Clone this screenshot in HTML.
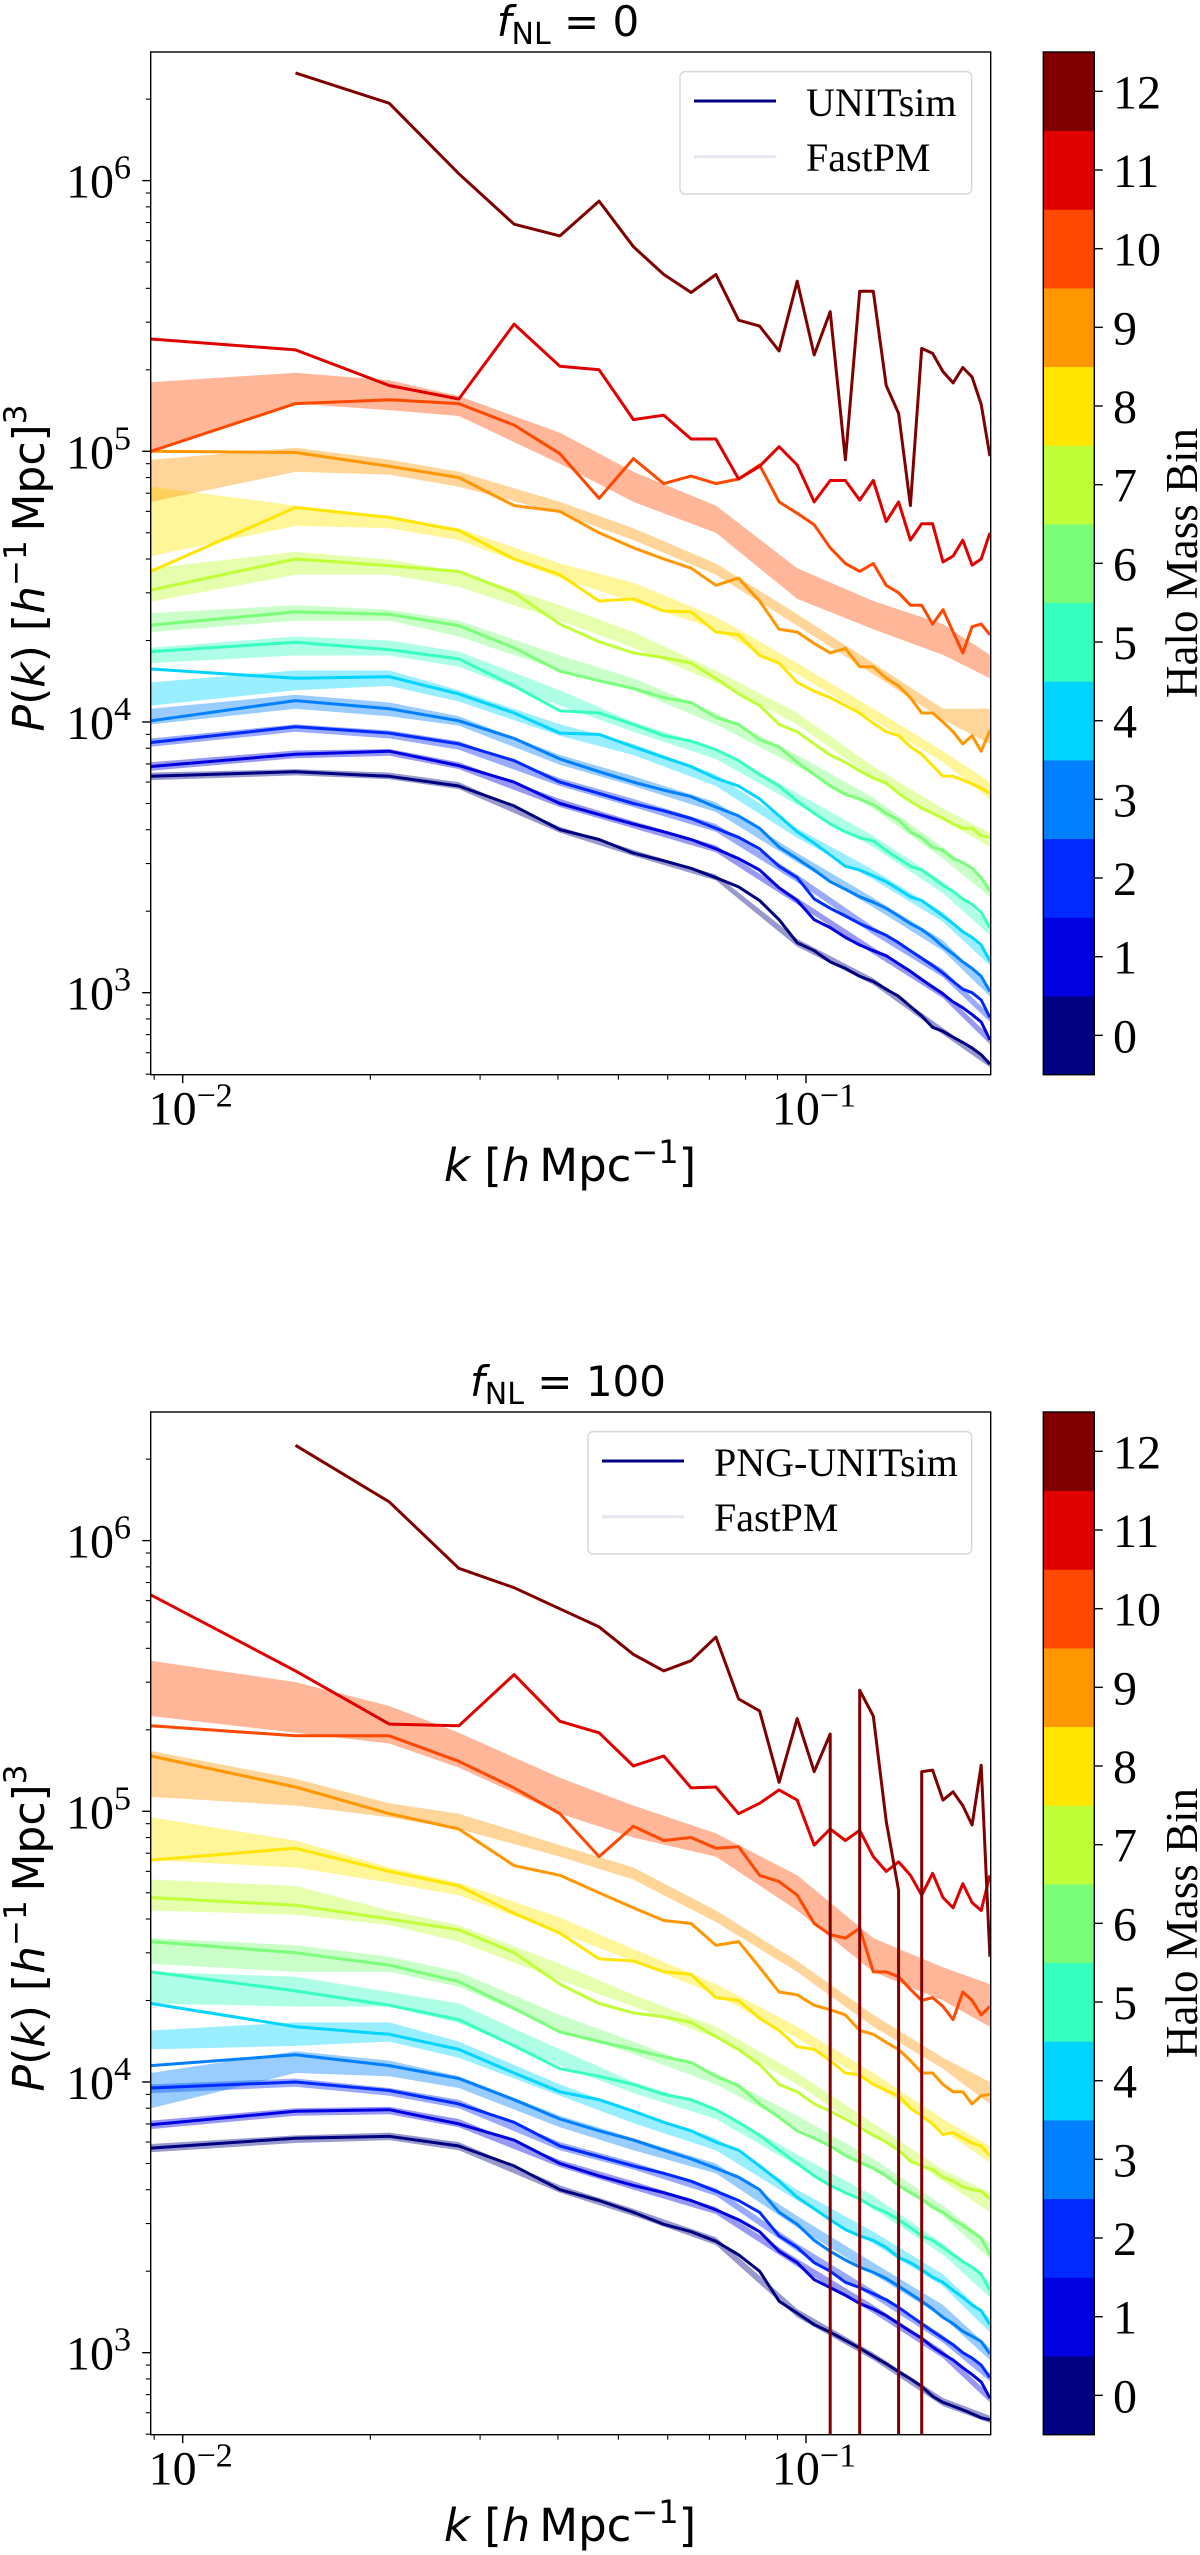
<!DOCTYPE html>
<html><head><meta charset="utf-8"><style>
html,body{margin:0;padding:0;background:#fff;overflow:hidden;}
svg{display:block;}
</style></head><body>
<svg id="fig" width="1200" height="2555" viewBox="0 0 1200 2555" xmlns="http://www.w3.org/2000/svg"></svg>
<script>
// ---- data ----
const kVals = [0.00889,0.01517,0.02145,0.02773,0.03401,0.04029,0.04657,0.05285,0.05913,0.06541,0.07169,0.07797,0.08425,0.09053,0.09681,0.10309,0.10937,0.11565,0.12193,0.12821,0.13449,0.14077,0.14705,0.15333,0.15961,0.16589,0.17217,0.17845,0.18473,0.19101,0.19729];
const bandK = [0.00889,0.01517,0.02145,0.02773,0.04029,0.05285,0.07169,0.09681,0.12821,0.16589,0.19729];
const binLabels = ["0","1","2","3","4","5","6","7","8","9","10","11","12"];
const yTickLabels = ["3","4","5","6"];
const xTickLabels = ["\u22122","\u22121"];

const top0 = [6300,6550,6300,5800,4900,4000,3680,3280,3070,2880,2660,2460,2190,1860,1530,1430,1300,1230,1150,1100,1030,970,890,820,745,720,685,655,625,590,545];
const top1 = [6850,7600,7800,6900,6000,5000,4550,4200,3930,3680,3400,3130,2840,2440,2190,1860,1740,1600,1500,1430,1370,1280,1200,1120,1050,990,925,880,830,780,670];
const top2 = [8400,9600,9100,8300,7200,6000,5450,5000,4700,4400,4050,3750,3400,2930,2660,2220,2050,1920,1800,1710,1630,1530,1430,1340,1260,1180,1100,1030,1000,940,810];
const top3 = [10100,12000,11200,10100,8700,7300,6550,6000,5600,5300,4850,4500,4050,3450,3130,2840,2570,2410,2260,2160,2050,1920,1800,1710,1600,1480,1390,1300,1230,1150,1010];
const top4 = [15700,14500,14700,12700,10800,9100,9000,8100,7400,6850,6200,5800,5200,4500,3930,3570,3230,2930,2840,2700,2570,2410,2260,2190,2050,1920,1800,1680,1600,1500,1310];
const top5 = [18200,19700,18500,17100,13600,11000,10800,9800,8900,8500,7900,7200,6400,5800,5100,4600,4200,3930,3730,3640,3350,3130,2930,2840,2660,2490,2370,2220,2120,1980,1740];
const top6 = [22800,25500,25000,22700,18800,15400,14200,13300,12300,11800,10400,9800,8600,8100,7100,6400,5800,5400,5200,4950,4600,4350,3930,3730,3450,3350,3130,3030,2880,2660,2370];
const top7 = [30700,40000,37800,36000,30000,23000,19800,18000,17300,16500,14500,12700,11500,9800,9200,8300,7550,7100,6600,6200,5950,5450,5100,4800,4600,4400,4200,4050,4050,3800,3750];
const top8 = [36000,62000,57000,51000,40000,35000,28000,28500,25700,25500,21500,21000,17600,16500,14000,13000,12300,11500,10800,9900,9200,8900,8100,7600,6900,6300,6300,6100,5900,5700,5450];
const top9 = [100000,99000,88000,80000,63000,60000,50000,44000,40000,37000,32000,34000,28000,22000,21500,19500,18000,18700,16000,16000,14500,13600,12300,10800,10800,10000,9200,8300,8900,7800,9300];
const top10 = [100000,150000,155000,150000,125000,98000,67000,94000,76000,81000,76000,79000,89000,65000,59000,53500,44000,38500,36000,38500,32000,30000,27000,27000,23000,26000,21500,18000,22500,23000,21000];
const top11 = [260000,237000,175000,156000,295000,206000,200000,131000,136000,111000,111000,79000,88000,104000,89000,65000,78000,78000,66000,78000,55000,65000,47000,54000,54000,39000,41000,47000,38000,40000,50000];
const top12 = [null,2500000,1930000,1060000,690000,625000,840000,570000,450000,386000,450000,305000,290000,235000,425000,227000,328000,93000,390000,390000,175000,138000,63000,240000,230000,197000,179000,204000,188000,149000,96000];

const bot0 = [5700,6200,6300,5800,4900,4000,3650,3300,2980,2800,2580,2300,2000,1550,1400,1270,1190,1110,1040,970,910,850,800,750,690,655,635,615,595,575,565];
const bot1 = [6950,7800,7900,7000,6100,5000,4500,4150,3900,3650,3370,3100,2800,2370,2150,1860,1740,1630,1520,1450,1370,1280,1200,1130,1050,990,940,880,830,780,680];
const bot2 = [9500,10000,9300,8300,7100,5800,5300,4900,4600,4300,3950,3650,3300,2700,2450,2150,2000,1820,1740,1650,1570,1470,1370,1280,1200,1130,1070,1000,955,900,810];
const bot3 = [11500,12600,11500,10300,8600,7300,6600,6100,5600,5200,4800,4450,4000,3300,2980,2600,2370,2200,2070,1980,1880,1760,1650,1550,1450,1350,1280,1200,1150,1100,990];
const bot4 = [19500,16000,15000,13200,10800,9200,8600,7800,7100,6600,6000,5600,4900,4300,3750,3400,3100,2850,2700,2600,2450,2250,2150,2030,1900,1820,1700,1600,1500,1430,1270];
const bot5 = [25500,21700,19200,17000,13600,11200,10500,9800,9000,8600,7900,7100,6350,5600,5000,4500,4150,3900,3700,3450,3300,3100,2900,2700,2600,2450,2300,2170,2070,1950,1700];
const bot6 = [33000,30000,27000,23500,18700,15300,14100,13200,12400,11800,10500,9700,8300,7400,6600,6200,5800,5350,5050,4800,4500,4150,3900,3700,3450,3300,3100,2950,2800,2650,2300];
const bot7 = [48000,45000,40000,36500,30000,23000,19500,18000,17400,16600,14700,13200,11600,9800,9200,8300,7800,7300,6800,6350,6000,5600,5100,4900,4750,4450,4300,4100,4000,3950,3700];
const bot8 = [66000,73000,60000,53000,42000,35500,28500,28000,25500,25000,20500,20000,17200,15500,13500,13200,12000,10800,10600,9800,9300,8900,8000,7500,7000,6400,6500,6200,5950,5800,5350];
const bot9 = [160000,123000,98000,86000,63000,58000,50000,44000,39500,38500,32000,33000,26500,21500,21000,19200,18500,17700,15500,15000,14000,13200,12000,10800,10800,9800,9200,9200,8300,8900,9000];
const bot10 = [207000,190000,190000,153000,122000,98000,68000,88000,78000,80000,73000,74000,58000,55000,49000,38500,35000,34000,37000,25500,25500,24500,22000,20000,20500,19000,17000,21500,20000,17700,19000];
const bot11 = [630000,330000,210000,207000,320000,215000,195000,147000,160000,122000,123000,98000,107000,120000,110000,75000,86000,78000,85000,68000,60000,65000,58000,49000,59000,48000,44000,54000,46000,43000,58000];
const bot12 = [null,2250000,1390000,790000,670000,560000,480000,380000,330000,360000,440000,260000,235000,128000,220000,140000,193000,0,280000,225000,92000,51000,0,140000,142000,110000,118000,105000,89000,148000,29000];

const topBandHi0 = [6500,6700,6500,6000,4100,3370,2730,1580,1130,740,560];
const topBandLo0 = [6100,6350,6150,5650,3900,3200,2600,1480,1070,700,530];
const topBandHi1 = [7100,7850,7950,7100,5200,4300,3500,2240,1470,1010,690];
const topBandLo1 = [6600,7350,7500,6700,4850,4050,3300,2120,1390,955,645];
const topBandHi2 = [8700,9800,9300,8500,6200,5200,4200,2730,1750,1220,830];
const topBandLo2 = [8100,9200,8700,7900,5800,4850,3930,2560,1640,1140,780];
const topBandHi3 = [11200,12600,11800,10500,7550,6300,5050,3280,2240,1560,1050];
const topBandLo3 = [9800,11200,10500,9700,6950,5800,4650,3030,2070,1430,970];
const topBandHi4 = [14000,15500,15500,13100,9800,8300,6400,4050,2840,1980,1370];
const topBandLo4 = [11500,13100,13600,11900,8900,7550,5800,3730,2620,1830,1260];
const topBandHi5 = [18800,20700,20000,18200,13100,10000,8000,5450,3800,2570,1800];
const topBandLo5 = [16500,17600,17600,16000,11500,9200,7300,4950,3450,2330,1630];
const topBandHi6 = [25200,27000,26000,23700,17600,14500,10800,7550,5250,3450,2490];
const topBandLo6 = [21500,23700,23700,20700,15500,13100,9800,6850,4780,3130,2260];
const topBandHi7 = [37000,42500,39800,36000,27000,21500,15500,10800,6850,4780,3900];
const topBandLo7 = [27800,35000,35000,31600,23700,18800,14000,9800,6200,4350,3450];
const topBandHi8 = [74000,63000,57000,52000,38500,32700,24500,16500,11200,7800,6000];
const topBandLo8 = [41000,53000,52000,47000,34000,27800,22000,15000,10200,7100,5200];
const topBandHi9 = [93000,103000,93000,84000,65000,52000,38500,25000,16500,11200,11200];
const topBandLo9 = [65000,84000,82000,74000,59000,47000,35000,22700,15000,10200,8300];
const topBandHi10 = [180000,195000,183000,160000,117000,84000,63000,37000,28000,23000,17700];
const topBandLo10 = [100000,150000,142000,135000,90000,65000,50000,28500,22000,17700,14500];

const botBandHi0 = [5900,6350,6500,6000,4150,3400,2670,1450,1000,680,585];
const botBandLo0 = [5500,5950,6100,5600,3900,3200,2500,1350,940,635,550];
const botBandHi1 = [7200,8000,8100,7300,5150,4300,3450,2220,1500,1020,700];
const botBandLo1 = [6700,7500,7600,6800,4850,4000,3250,2080,1400,955,655];
const botBandHi2 = [9800,10300,9500,8600,6000,5050,4050,2530,1700,1160,840];
const botBandLo2 = [9100,9600,8900,8000,5600,4750,3800,2370,1600,1090,785];
const botBandHi3 = [10800,13000,12000,10500,7500,6200,5000,3200,2150,1500,1040];
const botBandLo3 = [8000,10800,10500,9500,6800,5600,4600,2900,1950,1350,940];
const botBandHi4 = [15500,16600,16600,14100,9800,7800,6200,4000,2800,1950,1340];
const botBandLo4 = [13200,13600,14100,12300,8900,7050,5600,3650,2530,1760,1190];
const botBandHi5 = [25500,24500,21500,19500,13200,10000,8000,5400,3800,2530,1820];
const botBandLo5 = [19500,19000,19000,16500,11500,9100,7300,4900,3400,2300,1600];
const botBandHi6 = [34000,32000,29000,25500,17700,14100,10800,7500,5200,3500,2530];
const botBandLo6 = [27300,25500,25500,22500,15500,12700,9800,6800,4750,3200,2220];
const botBandHi7 = [56000,53000,43000,38000,27300,21000,16000,10800,7050,4730,3900];
const botBandLo7 = [43000,41500,38000,33000,23800,19000,14500,9800,6350,4300,3300];
const botBandHi8 = [95000,78000,62000,54500,40500,31000,23000,16000,10800,7300,5800];
const botBandLo8 = [66000,62000,54500,49000,35500,28000,21000,14500,9800,6600,5050];
const botBandHi9 = [167000,132000,107000,98000,75000,62000,43000,28000,17700,12300,10000];
const botBandLo9 = [113000,105000,95000,86000,68000,56000,39000,25500,16000,11200,8300];
const botBandHi10 = [360000,300000,245000,195000,133000,105000,83000,58000,34000,26500,23000];
const botBandLo10 = [225000,195000,178000,145000,98000,80000,68000,43000,25500,20000,16000];

const topLines = [top0,top1,top2,top3,top4,top5,top6,top7,top8,top9,top10,top11,top12];
const botLines = [bot0,bot1,bot2,bot3,bot4,bot5,bot6,bot7,bot8,bot9,bot10,bot11,bot12];
const topBandsHi = [topBandHi0,topBandHi1,topBandHi2,topBandHi3,topBandHi4,topBandHi5,topBandHi6,topBandHi7,topBandHi8,topBandHi9,topBandHi10];
const topBandsLo = [topBandLo0,topBandLo1,topBandLo2,topBandLo3,topBandLo4,topBandLo5,topBandLo6,topBandLo7,topBandLo8,topBandLo9,topBandLo10];
const botBandsHi = [botBandHi0,botBandHi1,botBandHi2,botBandHi3,botBandHi4,botBandHi5,botBandHi6,botBandHi7,botBandHi8,botBandHi9,botBandHi10];
const botBandsLo = [botBandLo0,botBandLo1,botBandLo2,botBandLo3,botBandLo4,botBandLo5,botBandLo6,botBandLo7,botBandLo8,botBandLo9,botBandLo10];

// ---- layout ----
const NS = "http://www.w3.org/2000/svg";
const svg = document.getElementById('fig');
const L = 150.7, R = 990.7, T0 = 52, B0 = 1074.7;
const CBL = 1043.3, CBR = 1094.3;
function xS(k){ return 806 + 623.3*(Math.log10(k)+1); }
function yS(p, off){ return off + 992.7 - 270.7*(Math.log10(p)-3); }
function jet(t){
  function interp(pts){ for(let i=0;i<pts.length-1;i++){ const a=pts[i],b=pts[i+1]; if(t>=a[0]&&t<=b[0]) return a[1]+(b[1]-a[1])*(t-a[0])/(b[0]-a[0]); } return pts[pts.length-1][1]; }
  const r=interp([[0,0],[0.35,0],[0.66,1],[0.89,1],[1,0.5]]);
  const g=interp([[0,0],[0.125,0],[0.375,1],[0.64,1],[0.91,0],[1,0]]);
  const b=interp([[0,0.5],[0.11,1],[0.34,1],[0.65,0],[1,0]]);
  return 'rgb('+Math.round(r*255)+','+Math.round(g*255)+','+Math.round(b*255)+')';
}
function mk(tag, attrs, parent){ const e=document.createElementNS(NS,tag); for(const k in attrs) e.setAttribute(k,attrs[k]); (parent||svg).appendChild(e); return e; }

function panel(off, lines, bandsHi, bandsLo, titleNum, legendName, legendLeft, legendTextX, pfx){
  const g = mk('g',{});
  
  
  const cid = pfx+'-clip';
  const cp = mk('clipPath',{id:cid}, g);
  mk('rect',{x:L,y:T0+off,width:R-L,height:B0-T0},cp);
  const plot = mk('g',{'clip-path':'url(#'+cid+')'}, g);
  
  
  const floorY = off + B0 + 3;
  // bands
  for(let b=0;b<bandsHi.length;b++){
    let d='';
    for(let i=0;i<bandK.length;i++) d += (i?'L':'M')+xS(bandK[i]).toFixed(1)+','+yS(bandsHi[b][i],off).toFixed(1);
    for(let i=bandK.length-1;i>=0;i--) d += 'L'+xS(bandK[i]).toFixed(1)+','+yS(bandsLo[b][i],off).toFixed(1);
    d+='Z';
    const p = mk('path',{d:d,fill:jet(b/12),'fill-opacity':0.4,stroke:'none'},plot);
    
    
  }
  // lines (non-positive values drop vertically out of the log axis)
  for(let b=0;b<lines.length;b++){
    let d='', started=false, prevX=null, afterZero=false;
    for(let i=0;i<kVals.length;i++){
      const v=lines[b][i];
      const x=xS(kVals[i]);
      if(v===null||v===undefined){ started=false; continue; }
      if(v<=0){
        if(started) d += 'L'+prevX.toFixed(1)+','+floorY;
        started=false; afterZero=true; continue;
      }
      const y=yS(v,off);
      if(!started){
        if(afterZero) d += 'M'+x.toFixed(1)+','+floorY+'L'+x.toFixed(1)+','+y.toFixed(1);
        else d += 'M'+x.toFixed(1)+','+y.toFixed(1);
      } else d += 'L'+x.toFixed(1)+','+y.toFixed(1);
      started=true; afterZero=false; prevX=x;
    }
    const p = mk('path',{d:d,fill:'none',stroke:jet(b/12),'stroke-width':3,'stroke-linejoin':'round'},plot);
    
    
  }
  // frame
  const fr = mk('rect',{x:L,y:T0+off,width:R-L,height:B0-T0,fill:'none',stroke:'#000','stroke-width':1.4},g);
  
  
  // y ticks
  const yt = mk('g',{},g);
  
  
  for(let e=2;e<=6;e++){
    for(let m=1;m<10;m++){
      const p=m*Math.pow(10,e); const y=yS(p,off);
      if(y<T0+off-0.5||y>B0+off+0.5) continue;
      const len = m===1?8.5:5;
      mk('line',{x1:L,x2:L-len,y1:y,y2:y,stroke:'#000','stroke-width':m===1?1.4:1.1},yt);
    }
  }
  yTickLabels.forEach(s=>{
    const y=yS(Math.pow(10,+s),off);
    const t=mk('text',{x:131,y:y+17,'text-anchor':'end','font-family':'Liberation Serif, serif','font-size':48},yt);
    
    
    t.appendChild(document.createTextNode('10'));
    const s2=mk('tspan',{'font-size':34,dy:-19},t); s2.textContent=s;
  });
  // x ticks
  const xt = mk('g',{},g);
  
  
  for(let e=-3;e<=-1;e++){
    for(let m=1;m<10;m++){
      const k=m*Math.pow(10,e); const x=xS(k);
      if(x<L-0.5||x>R+0.5) continue;
      const len = m===1?8.5:5;
      mk('line',{x1:x,x2:x,y1:B0+off,y2:B0+off+len,stroke:'#000','stroke-width':m===1?1.4:1.1},xt);
    }
  }
  xTickLabels.forEach((s,i)=>{
    const x=xS(Math.pow(10,-2+i));
    const t=mk('text',{x:x+8,y:B0+off+50,'text-anchor':'middle','font-family':'Liberation Serif, serif','font-size':48},xt);
    
    
    t.appendChild(document.createTextNode('10'));
    const s2=mk('tspan',{'font-size':34,dy:-18},t); s2.textContent=s;
  });
  // x label
  const xl=mk('text',{x:570,y:off+1181,'text-anchor':'middle','font-family':'DejaVu Sans, sans-serif','font-size':45},g);
  
  
  xl.innerHTML='<tspan font-style="italic">k</tspan> [<tspan font-style="italic">h</tspan>\u2009Mpc<tspan font-size="32" dy="-18">\u22121</tspan><tspan dy="18">]</tspan>';
  // y label
  const yl=mk('text',{x:0,y:0,'text-anchor':'middle','font-family':'DejaVu Sans, sans-serif','font-size':44,transform:'translate(44,'+(off+568)+') rotate(-90)'},g);
  
  
  yl.innerHTML='<tspan font-style="italic">P</tspan>(<tspan font-style="italic">k</tspan>) [<tspan font-style="italic">h</tspan><tspan font-size="31" dy="-18">\u22121</tspan><tspan dy="18">\u2009Mpc]</tspan><tspan font-size="31" dy="-18">3</tspan>';
  // title
  const tt=mk('text',{x:568,y:off+36,'text-anchor':'middle','font-family':'DejaVu Sans, sans-serif','font-size':42},g);
  
  
  tt.innerHTML='<tspan font-style="italic">f</tspan><tspan font-size="30" dy="8">NL</tspan><tspan dy="-8"> = '+titleNum+'</tspan>';
  // legend
  const lg=mk('g',{},g);
  
  
  mk('rect',{x:legendLeft,y:off+71.7,width:971.7-legendLeft,height:122.3,rx:5,fill:'#fff','fill-opacity':0.8,stroke:'#d6d6d6','stroke-width':1.4},lg);
  const lx=legendLeft+14;
  const l1=mk('line',{x1:lx,x2:lx+82,y1:off+101,y2:off+101,stroke:'#00007f','stroke-width':3},lg);
  
  
  const t1=mk('text',{x:legendTextX,y:off+116,'font-family':'Liberation Serif, serif','font-size':40},lg);
  
  
  t1.textContent=legendName;
  const l2=mk('line',{x1:lx,x2:lx+82,y1:off+156.7,y2:off+156.7,stroke:'#e5e5f2','stroke-width':3},lg);
  
  
  const t2=mk('text',{x:legendTextX,y:off+171,'font-family':'Liberation Serif, serif','font-size':40},lg);
  
  
  t2.textContent='FastPM';
  // colorbar
  const cb=mk('g',{},g);
  
  
  const h=(B0-T0)/13;
  binLabels.forEach((s,i)=>{
    const y0=off+B0-(i+1)*h;
    const r=mk('rect',{x:CBL,y:y0,width:CBR-CBL,height:h+0.4,fill:jet(i/12)},cb);
    
    
    const yc=y0+h/2;
    mk('line',{x1:CBR,x2:CBR+8.5,y1:yc,y2:yc,stroke:'#000','stroke-width':1.4},cb);
    const t=mk('text',{x:1113,y:yc+17,'font-family':'Liberation Serif, serif','font-size':48},cb);
    
    
    t.textContent=s;
  });
  mk('rect',{x:CBL,y:off+T0,width:CBR-CBL,height:B0-T0,fill:'none',stroke:'#000','stroke-width':1.4},cb);
  const cl=mk('text',{x:0,y:0,'text-anchor':'middle','font-family':'Liberation Serif, serif','font-size':45,transform:'translate(1197,'+(off+563)+') rotate(-90)'},cb);
  
  
  cl.textContent='Halo Mass Bin';
}
panel(0, topLines, topBandsHi, topBandsLo, '0', 'UNITsim', 680, 806, 'fnl0');
panel(1360, botLines, botBandsHi, botBandsLo, '100', 'PNG-UNITsim', 588, 714, 'fnl100');
</script>
</body></html>
